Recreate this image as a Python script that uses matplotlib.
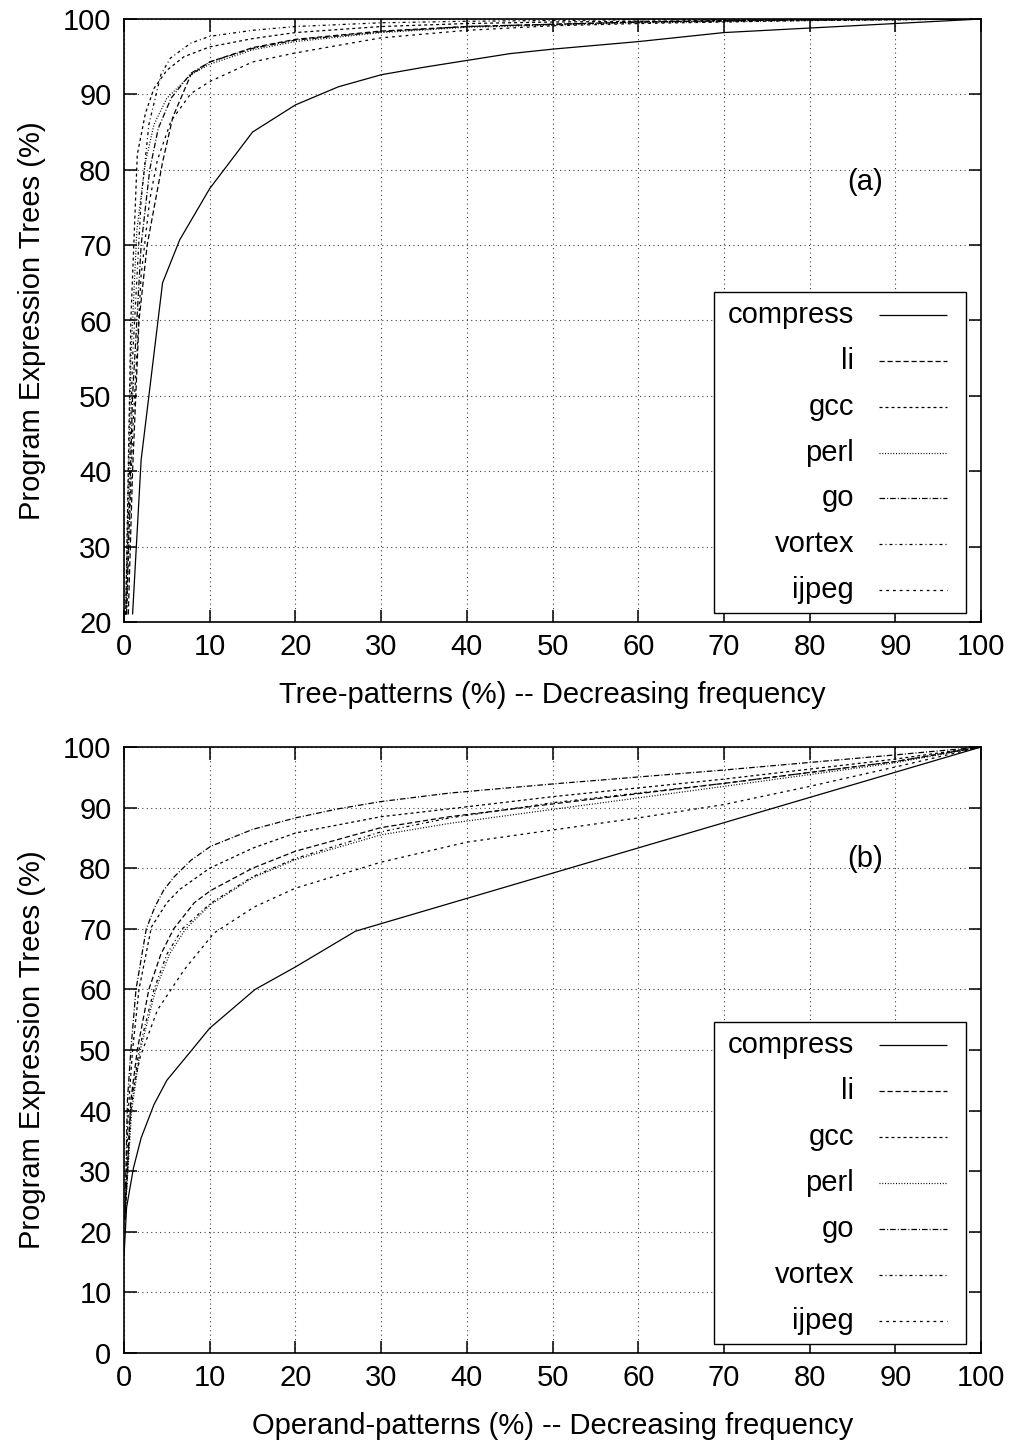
import matplotlib
matplotlib.use("Agg")
import matplotlib.pyplot as plt
from matplotlib.patches import Rectangle
from matplotlib.lines import Line2D

plt.rcParams['font.family'] = ['Liberation Sans', 'DejaVu Sans']

names = ["compress", "li", "gcc", "perl", "go", "vortex", "ijpeg"]

# ---------- (a) Tree-patterns ----------
a_compress_x = [1.0, 2.0, 4.5, 6.5, 10, 15, 20, 25, 30, 35, 40, 45, 50, 60, 70, 80, 90, 100]
a_compress_y = [21, 41.5, 65, 70.7, 77.5, 85, 88.6, 91, 92.6, 93.6, 94.5, 95.4, 96, 97, 98.2, 98.8, 99.4, 100]
a_li_x = [0.5, 1.0, 1.75, 2.7, 4.5, 5.7, 7.8, 10, 15, 20, 30, 40, 60, 80, 100]
a_li_y = [21, 40, 60, 70, 81, 87, 92.6, 94.3, 96.2, 97.3, 98.4, 99, 99.6, 99.9, 100]
a_gcc_x = [0.2, 0.8, 1.55, 2.5, 3.5, 5, 7, 10, 15, 20, 30, 40, 50, 70, 100]
a_gcc_y = [21, 60, 82, 87.5, 90.8, 93.2, 95, 96.3, 97.4, 98.2, 99, 99.4, 99.6, 99.8, 100]
a_perl_x = [0.2, 0.8, 1.5, 2.5, 3.5, 5, 7.8, 10, 15, 20, 30, 40, 60, 80, 100]
a_perl_y = [21, 55, 72, 81, 86, 89.5, 92.6, 94, 95.9, 97, 98.2, 98.9, 99.5, 99.8, 100]
a_go_x = [0.3, 1, 2, 3, 4, 5.5, 7.8, 10, 15, 20, 30, 40, 60, 80, 100]
a_go_y = [21, 50, 70, 80, 85.5, 89.5, 92.8, 94.3, 96.1, 97.2, 98.3, 99, 99.6, 99.9, 100]
a_vortex_x = [0.2, 1, 2, 2.9, 4.3, 5.4, 7.8, 10, 15, 20, 30, 40, 50, 60, 80, 100]
a_vortex_y = [21, 55, 76, 86, 92.6, 94.8, 96.8, 97.7, 98.5, 99, 99.5, 99.7, 99.8, 99.9, 100, 100]
a_ijpeg_x = [0.3, 1, 2, 3, 3.9, 5.5, 7.8, 10, 15, 20, 30, 40, 50, 60, 80, 100]
a_ijpeg_y = [21, 45, 66, 76, 81.3, 86.5, 90.1, 91.7, 94.3, 95.5, 97.5, 98.5, 99.1, 99.4, 99.8, 100]

# ---------- (b) Operand-patterns ----------
b_compress_x = [0, 0.1, 0.3, 1.1, 2, 3.5, 5, 7.8, 10, 15.3, 20, 27, 100]
b_compress_y = [16, 18.6, 24, 30.5, 35.5, 41, 45, 49.8, 53.6, 60, 63.7, 69.6, 100]
b_li_x = [0.1, 0.8, 1.55, 2.9, 4.3, 5.8, 8.2, 10.1, 15, 20, 30, 38, 50, 70, 90, 100]
b_li_y = [22, 41.7, 50, 60, 65.8, 70, 74.3, 76.3, 80, 82.8, 86.7, 88.5, 90.6, 94.0, 97.6, 100]
b_gcc_x = [0.1, 0.5, 1.0, 1.75, 3.2, 5, 6.5, 10, 15, 20, 30, 38, 50, 70, 90, 100]
b_gcc_y = [22, 40, 50, 60, 70.3, 74.3, 76.5, 80, 83.3, 85.8, 88.5, 89.8, 91.8, 94.7, 98, 100]
b_perl_x = [0.1, 0.9, 1.9, 3.7, 5.3, 7.2, 10.1, 15, 20, 30, 38, 50, 70, 90, 100]
b_perl_y = [22, 40, 50, 60, 65.8, 70, 74, 78.4, 81.4, 85.5, 87.4, 89.7, 93.5, 97.4, 100]
b_go_x = [0.1, 0.4, 0.8, 1.4, 2.6, 3.6, 4.6, 5.8, 7.8, 10.1, 15, 20, 25, 30, 38, 50, 70, 90, 100]
b_go_y = [22, 41.7, 50, 60, 70, 73.6, 76.3, 78.5, 81.3, 83.6, 86.4, 88.3, 89.8, 91.0, 92.4, 93.9, 96.2, 98.7, 100]
b_vortex_x = [0.1, 0.8, 1.75, 3.5, 5.0, 6.8, 10.1, 15, 20, 30, 38, 50, 70, 90, 100]
b_vortex_y = [22, 40, 50, 60, 65.8, 70, 74.2, 78.6, 81.6, 86, 88.3, 90.8, 94, 97.6, 100]
b_ijpeg_x = [0.1, 0.8, 1.9, 3.9, 7.0, 10.5, 15.2, 20, 30, 40, 50, 60, 70, 80, 90, 100]
b_ijpeg_y = [22, 41.7, 48.9, 56.6, 63.2, 69.3, 73.6, 76.7, 81, 84.3, 86.3, 88.3, 90.5, 93.5, 96.7, 100]

x_ticks = [0, 10, 20, 30, 40, 50, 60, 70, 80, 90, 100]
a_yticks = [20, 30, 40, 50, 60, 70, 80, 90, 100]
b_yticks = [0, 10, 20, 30, 40, 50, 60, 70, 80, 90, 100]

styles = {
    "compress": (0, ()),
    "li": (0, (4.2, 2.2)),
    "gcc": (0, (2.4, 2.4)),
    "perl": (0, (0.8, 1.4)),
    "go": (0, (4.5, 1.6, 0.8, 1.6)),
    "vortex": (0, (2.4, 2.4, 0.8, 2.4)),
    "ijpeg": (0, (2.2, 3.2)),
}

A = {"compress": (a_compress_x, a_compress_y), "li": (a_li_x, a_li_y),
     "gcc": (a_gcc_x, a_gcc_y), "perl": (a_perl_x, a_perl_y),
     "go": (a_go_x, a_go_y), "vortex": (a_vortex_x, a_vortex_y),
     "ijpeg": (a_ijpeg_x, a_ijpeg_y)}
B = {"compress": (b_compress_x, b_compress_y), "li": (b_li_x, b_li_y),
     "gcc": (b_gcc_x, b_gcc_y), "perl": (b_perl_x, b_perl_y),
     "go": (b_go_x, b_go_y), "vortex": (b_vortex_x, b_vortex_y),
     "ijpeg": (b_ijpeg_x, b_ijpeg_y)}

W, H = 1011, 1444
fig = plt.figure(figsize=(W / 100, H / 100), dpi=100)

FS = 21

def px_axes(l, t, r, b):
    return fig.add_axes([l / W, 1 - b / H, (r - l) / W, (b - t) / H])

def setup(ax, data, yticks, ymin, xlabel, tag, tag_y):
    for n in names:
        xs, ys = data[n]
        ax.plot(xs, ys, color='black', lw=0.9, linestyle=styles[n])
    ax.set_xlim(0, 100)
    ax.set_ylim(ymin, 100)
    ax.set_xticks(x_ticks)
    ax.set_yticks(yticks)
    ax.tick_params(direction='in', length=9, width=1.1, top=True, right=True,
                   labelsize=FS, colors='black')
    ax.tick_params(axis='x', pad=8)
    ax.tick_params(axis='y', pad=9)
    ax.grid(True, color='0.25', lw=0.8, linestyle=(0, (1, 3)))
    for s in ax.spines.values():
        s.set_linewidth(1.2)
    ax.set_xlabel(xlabel, fontsize=FS, labelpad=14)
    ax.set_ylabel("Program Expression Trees (%)", fontsize=FS, labelpad=12)
    ax.text(0.865, tag_y, tag, transform=ax.transAxes, fontsize=FS,
            ha='center', va='center')
    # legend box
    lx0, lx1 = 0.688, 0.982
    ly0, ly1 = 0.015, 0.547
    ax.add_patch(Rectangle((lx0, ly0), lx1 - lx0, ly1 - ly0, transform=ax.transAxes,
                           facecolor='white', edgecolor='black', lw=1.0, zorder=5))
    n_ent = len(names)
    step = (ly1 - ly0) / n_ent
    for i, n in enumerate(names):
        yc = ly1 - step * (i + 0.5)
        ax.text(0.852, yc, n, transform=ax.transAxes, fontsize=FS,
                ha='right', va='center', zorder=6)
        ax.add_line(Line2D([0.881, 0.960], [yc, yc], transform=ax.transAxes,
                           color='black', lw=0.9, linestyle=styles[n], zorder=6))

ax1 = px_axes(124, 19, 981, 622)
setup(ax1, A, a_yticks, 20, "Tree-patterns (%) -- Decreasing frequency", "(a)", 0.73)
ax2 = px_axes(124, 747, 981, 1353)
setup(ax2, B, b_yticks, 0, "Operand-patterns (%) -- Decreasing frequency", "(b)", 0.815)

fig.savefig("out.png", dpi=100)
